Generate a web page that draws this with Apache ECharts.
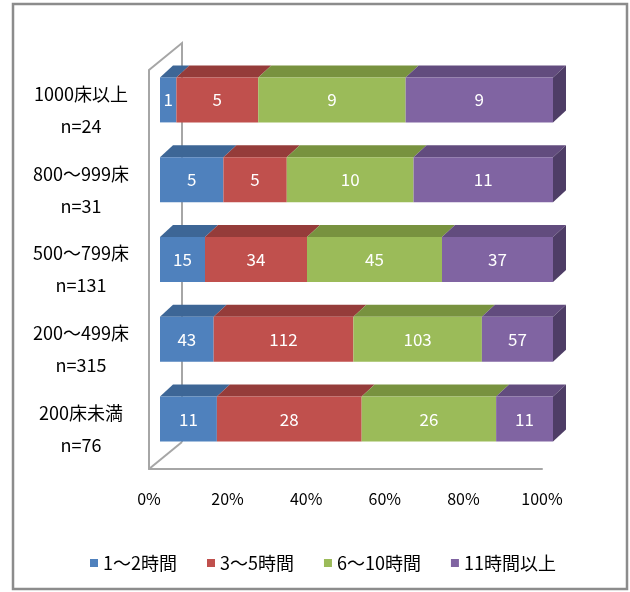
<!DOCTYPE html>
<html>
<head>
<meta charset="utf-8">
<script src="https://cdn.jsdelivr.net/npm/echarts@6/dist/echarts.min.js"></script>
<style>
  html, body { margin: 0; padding: 0; background: #fff; }
  #chart { width: 630px; height: 592px; }
</style>
</head>
<body>
<div id="chart"></div>
<script>
// Hospital size groups (top to bottom) and their respondent counts
const categories = ['1000床以上', '800～999床', '500～799床', '200～499床', '200床未満'];
const sampleSizes = [24, 31, 131, 315, 76];

// Answer groups (hours) and counts per hospital size group
const seriesNames = ['1～2時間', '3～5時間', '6～10時間', '11時間以上'];
const hours1to2  = [1, 5, 15, 43, 11];
const hours3to5  = [5, 5, 34, 112, 28];
const hours6to10 = [9, 10, 45, 103, 26];
const hours11up  = [9, 11, 37, 57, 11];

const xTickLabels = ['0%', '20%', '40%', '60%', '80%', '100%'];

const counts = [hours1to2, hours3to5, hours6to10, hours11up];
const frontColors = ['#4F81BD', '#C0504D', '#9BBB59', '#8064A2'];
const topColors   = ['#3D6696', '#953C3A', '#78923F', '#624C7E'];
const sideColor   = '#4E3D66';

// pseudo-3D projection: bars sit a little behind the axis plane
const SHIFT_X = 11, SHIFT_Y = -10;   // bar front face offset from axis plane
const DEPTH_X = 13, DEPTH_Y = -12;   // bar depth
const WALL_X = 33, WALL_Y = -27;     // wall/floor depth
const BAR_RATIO = 0.564;
const LABEL_FONT = '"Noto Sans CJK JP", "Noto Sans", sans-serif';

// 100% stacked segments: [category index, start %, end %, count]
function buildSegments(si) {
  return categories.map((_, ci) => {
    const total = counts.reduce((s, arr) => s + arr[ci], 0);
    let before = 0;
    for (let k = 0; k < si; k++) before += counts[k][ci];
    const v = counts[si][ci];
    return [ci, before / total * 100, (before + v) / total * 100, v];
  });
}

function makeRenderer(si) {
  const isLast = si === counts.length - 1;
  return function (params, api) {
    const ci = api.value(0), s = api.value(1), e = api.value(2), n = api.value(3);
    const p0 = api.coord([s, ci]);
    const p1 = api.coord([e, ci]);
    const band = api.size([0, 1])[1];
    const h = band * BAR_RATIO;
    const x0 = p0[0] + SHIFT_X, x1 = p1[0] + SHIFT_X;
    const yc = p0[1] + SHIFT_Y;
    const top = yc - h / 2, bottom = yc + h / 2;
    const children = [
      {
        type: 'polygon',
        shape: { points: [[x0, top], [x0 + DEPTH_X, top + DEPTH_Y], [x1 + DEPTH_X, top + DEPTH_Y], [x1, top]] },
        style: { fill: topColors[si] }
      },
      {
        type: 'rect',
        shape: { x: x0, y: top, width: x1 - x0, height: h },
        style: { fill: frontColors[si] }
      }
    ];
    if (isLast) {
      children.push({
        type: 'polygon',
        shape: { points: [[x1, top], [x1 + DEPTH_X, top + DEPTH_Y], [x1 + DEPTH_X, bottom + DEPTH_Y], [x1, bottom]] },
        style: { fill: sideColor }
      });
    }
    children.push({
      type: 'text',
      style: {
        text: String(n),
        x: (x0 + x1) / 2,
        y: yc,
        align: 'center',
        verticalAlign: 'middle',
        fill: '#ffffff',
        font: '17px ' + LABEL_FONT
      }
    });
    return { type: 'group', children: children };
  };
}

const chart = echarts.init(document.getElementById('chart'), null, { renderer: 'canvas' });

const series = seriesNames.map((name, si) => ({
  name: name,
  type: 'custom',
  renderItem: makeRenderer(si),
  encode: { x: [1, 2], y: 0 },
  itemStyle: { color: frontColors[si] },
  data: buildSegments(si),
  z: 2 + si
}));

chart.setOption({
  animation: false,
  backgroundColor: '#ffffff',
  textStyle: { fontFamily: LABEL_FONT },
  grid: { left: 149, right: 88, top: 70, bottom: 123 },
  xAxis: {
    type: 'value',
    min: 0,
    max: 100,
    interval: 20,
    axisLine: { show: true, lineStyle: { color: '#A6A6A6', width: 2 } },
    axisTick: { show: false },
    splitLine: { show: false },
    axisLabel: {
      margin: 22,
      fontSize: 16,
      color: '#000',
      formatter: v => xTickLabels[Math.round(v / 20)]
    }
  },
  yAxis: {
    type: 'category',
    data: categories,
    inverse: true,
    axisLine: { show: true, lineStyle: { color: '#A6A6A6', width: 2 } },
    axisTick: { show: false },
    splitLine: { show: false },
    axisLabel: {
      margin: 68,
      align: 'center',
      fontSize: 18,
      lineHeight: 32,
      color: '#000',
      padding: [12, 0, 0, 0],
      formatter: (v, i) => v + '\nn=' + sampleSizes[i]
    }
  },
  legend: {
    data: seriesNames.map((name, si) => ({ name: name, icon: 'rect', itemStyle: { color: frontColors[si] } })),
    left: 85,
    top: 549,
    itemWidth: 8,
    itemHeight: 8,
    itemGap: 30,
    textStyle: { fontSize: 18, color: '#000', fontFamily: LABEL_FONT }
  },
  series: series
});

// Walls and floor edges of the 3D plot box, derived from the grid's axes
function drawFrame() {
  const bl = chart.convertToPixel({ gridIndex: 0 }, [0, categories.length - 1]);
  const tl = chart.convertToPixel({ gridIndex: 0 }, [0, 0]);
  const band = Math.abs(bl[1] - tl[1]) / (categories.length - 1);
  const left = bl[0];
  const bottomY = bl[1] + band / 2;
  const topY = tl[1] - band / 2;
  const lineStyle = { stroke: '#A6A6A6', lineWidth: 2, fill: null };
  chart.setOption({
    graphic: [
      {
        type: 'polyline', z: 1,
        shape: { points: [[left, topY], [left + WALL_X, topY + WALL_Y], [left + WALL_X, bottomY + WALL_Y]] },
        style: lineStyle
      },
      {
        type: 'line', z: 1,
        shape: { x1: left, y1: bottomY, x2: left + WALL_X, y2: bottomY + WALL_Y },
        style: lineStyle
      },
      {
        type: 'rect', z: 0,
        shape: { x: 13, y: 4, width: 614, height: 585 },
        style: { stroke: '#8C8C8C', lineWidth: 2.5, fill: null }
      }
    ]
  });
}
drawFrame();
</script>
</body>
</html>
